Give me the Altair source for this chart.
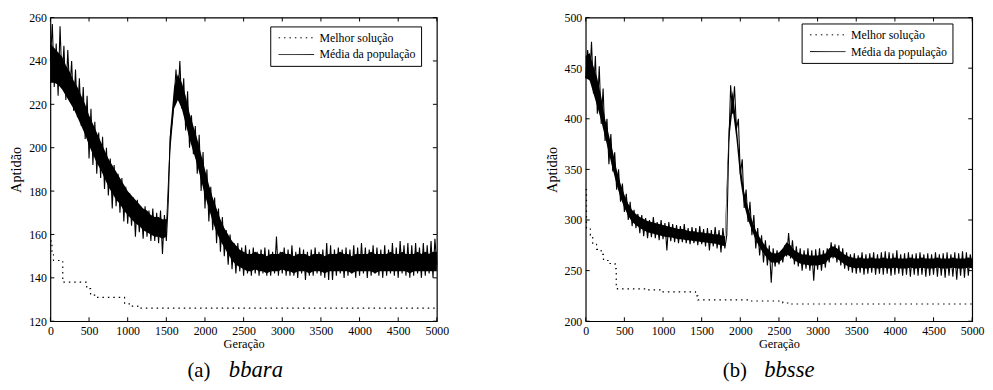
import altair as alt
import pandas as pd

# ---------------- data ----------------
# (a) bbara : population mean, sampled every 25 generations (upper/lower spikes of the noisy band)
mean_a = [240, 257, 228, 248, 224, 256, 230, 247, 222, 245, 226, 240, 217, 236, 214, 232, 210, 228, 204, 224,
          195, 218, 192, 212, 188, 207, 186, 205, 181, 200, 178, 195, 172, 192, 173, 188, 170, 186, 166, 182,
          165, 179, 164, 177, 159, 176, 161, 172, 158, 173, 159, 171, 157, 172, 157, 170, 156, 171, 151, 169,
          157, 175, 205, 212, 222, 236, 222, 240, 218, 232, 208, 226, 200, 215, 197, 210, 188, 206, 180, 198,
          172, 190, 166, 182, 162, 177, 156, 172, 152, 168, 150, 162, 146, 160, 144, 156, 142, 156, 143, 154,
          141, 155, 142, 153, 141, 154, 142, 152, 141, 153, 142, 154, 141, 153, 141, 152, 142, 159, 141, 152,
          142, 154, 141, 153, 141, 155, 141, 152, 140, 154, 142, 153, 139, 152, 141, 153, 141, 154, 142, 152,
          141, 153, 140, 156, 139, 155, 139, 153, 141, 154, 142, 153, 140, 154, 141, 153, 142, 155, 140, 154,
          141, 156, 142, 154, 140, 153, 141, 155, 142, 154, 141, 153, 140, 155, 141, 153, 142, 156, 141, 154,
          140, 157, 142, 155, 141, 156, 140, 155, 141, 156, 142, 154, 140, 156, 141, 155, 142, 157, 140, 158,
          146]
# dense core of the band, every 50 generations
band_a_low = [230, 230, 229, 227, 224, 221, 218, 214, 210, 206, 201, 197, 193, 190, 186, 182, 179, 176, 174, 171,
              169, 167, 165, 164, 162, 161, 160, 159, 159, 158, 159,
              198, 218, 222, 218, 211, 204, 198, 192, 185, 178, 172, 166, 161, 157, 154, 151, 148, 146, 145, 144,
              143, 143, 144, 143, 143, 142, 143, 143, 143, 144, 143, 143, 142, 143, 143, 143, 142, 143, 143, 143,
              142, 143, 143, 143, 143, 143, 143, 142, 143, 143, 143, 143, 143, 142, 143, 143, 143, 143, 143, 143,
              143, 143, 142, 143, 143, 143, 143, 143, 143, 143]
band_a_high = [248, 246, 244, 242, 238, 235, 231, 228, 224, 220, 215, 211, 207, 203, 199, 195, 192, 189, 186, 183,
               180, 178, 176, 174, 172, 171, 169, 168, 168, 167, 167,
               208, 228, 234, 230, 224, 216, 210, 204, 197, 190, 183, 177, 172, 167, 163, 160, 157, 155, 153, 152,
               151, 151, 152, 151, 151, 150, 151, 151, 151, 152, 151, 151, 150, 151, 151, 151, 150, 151, 151, 151,
               150, 151, 151, 151, 152, 151, 151, 150, 151, 151, 151, 151, 152, 151, 151, 151, 151, 152, 151, 151,
               152, 151, 151, 151, 152, 151, 152, 151, 152, 152]
best_a_gen = [0, 20, 40, 160, 470, 520, 600, 960, 1050, 1130, 5000]
best_a_val = [157, 152, 148, 138, 135, 132, 131, 128, 127, 126, 126]

# (b) bbsse
mean_b = [440, 468, 438, 476, 425, 462, 405, 452, 395, 430, 378, 400, 355, 385, 348, 367, 330, 350, 318, 336,
          308, 326, 300, 318, 294, 310, 292, 306, 287, 305, 284, 302, 282, 300, 283, 303, 282, 298, 280, 300,
          281, 297, 270, 298, 279, 296, 278, 295, 277, 294, 278, 296, 277, 292, 276, 293, 277, 292, 275, 294,
          276, 291, 274, 292, 270, 290, 274, 293, 272, 290, 268, 292, 272, 285, 370, 433, 405, 432, 390, 400,
          345, 360, 312, 330, 298, 318, 285, 305, 272, 292, 265, 285, 258, 280, 255, 275, 238, 272, 254, 270,
          256, 268, 258, 275, 264, 287, 262, 280, 256, 274, 254, 272, 250, 270, 252, 272, 250, 270, 240, 271,
          251, 272, 250, 270, 253, 272, 258, 278, 262, 276, 258, 275, 255, 272, 252, 268, 250, 266, 248, 267,
          247, 265, 248, 268, 246, 266, 247, 267, 248, 268, 246, 266, 247, 268, 246, 269, 247, 268, 245, 267,
          246, 270, 247, 266, 245, 267, 246, 268, 244, 266, 246, 267, 245, 268, 246, 266, 244, 267, 245, 266,
          246, 268, 244, 266, 245, 267, 243, 268, 245, 266, 244, 268, 241, 267, 245, 269, 243, 268, 245, 266,
          255]
band_b_low = [440, 438, 425, 412, 398, 382, 366, 350, 335, 322, 312, 304, 298, 295, 292, 290, 288, 287, 286, 285,
              284, 283, 283, 282, 281, 281, 280, 280, 279, 279, 278, 278, 277, 277, 276, 275, 274,
              375, 410, 380, 340, 315, 300, 290, 280, 273, 267, 262, 258, 258, 258, 262, 266, 264, 260, 258, 256,
              256, 255, 255, 255, 256, 257, 262, 264, 262, 259, 256, 254,
              253, 252, 253, 252, 252, 253, 252, 252, 253, 252, 252, 253, 252, 252, 252, 253, 252, 252, 253, 252,
              252, 252, 253, 252, 252, 252, 253, 252, 252, 252, 253, 252]
band_b_high = [462, 465, 452, 440, 422, 400, 384, 368, 350, 336, 325, 316, 310, 306, 303, 301, 299, 298, 297, 296,
               295, 294, 293, 292, 291, 291, 290, 289, 289, 288, 288, 287, 287, 286, 286, 285, 284,
               390, 428, 395, 355, 328, 312, 300, 290, 283, 277, 272, 268, 267, 268, 272, 278, 275, 270, 268, 266,
               266, 265, 265, 265, 266, 267, 272, 274, 272, 269, 266, 264,
               263, 262, 263, 262, 262, 263, 262, 262, 263, 262, 262, 263, 262, 262, 262, 263, 262, 262, 263, 262,
               262, 262, 263, 262, 262, 262, 263, 262, 262, 262, 263, 262]
best_b_gen = [0, 10, 60, 90, 140, 200, 230, 300, 380, 395, 410, 780, 1000, 1420, 1450, 2100, 2550, 2650, 5000]
best_b_val = [330, 292, 285, 276, 271, 266, 260, 257, 252, 236, 232, 231, 229, 225, 221, 220, 218, 217, 217]

x_ticks = [0, 500, 1000, 1500, 2000, 2500, 3000, 3500, 4000, 4500, 5000]
y_ticks_a = [120, 140, 160, 180, 200, 220, 240, 260]
y_ticks_b = [200, 250, 300, 350, 400, 450, 500]

SERIES = ["Melhor solução", "Média da população"]
STEP = 25
BAND_STEP = 50
W, H = 392, 308
FONT = "'Liberation Serif', 'Times New Roman', Times, 'DejaVu Serif', serif"


def panel(mean_vals, band_lo, band_hi, best_gen, best_val, y_dom, y_ticks, tag, name, lx, ly):
    df_mean = pd.DataFrame({"gen": [STEP * i for i in range(len(mean_vals))],
                            "val": mean_vals, "serie": SERIES[1]})
    df_band = pd.DataFrame({"gen": [BAND_STEP * i for i in range(len(band_lo))],
                            "lo": band_lo, "hi": band_hi})
    df_best = pd.DataFrame({"gen": best_gen, "val": best_val, "serie": SERIES[0]})

    xs = alt.Scale(domain=[0, 5000], nice=False, zero=False)
    ys = alt.Scale(domain=y_dom, nice=False, zero=False)
    xax = alt.Axis(values=x_ticks, ticks=False, domain=False, grid=False, labelFlush=False,
                   labelOverlap=False, labelPadding=4, titlePadding=2, title="Geração", format="d")
    yax = alt.Axis(values=y_ticks, ticks=False, domain=False, grid=False, labelFlush=False,
                   labelOverlap=False, labelPadding=4, titlePadding=5, title="Aptidão", format="d",
                   titleFontSize=14.5)
    X = lambda f: alt.X(f, scale=xs, axis=xax)
    Y = lambda f: alt.Y(f, scale=ys, axis=yax)

    dash = alt.StrokeDash(
        "serie:N",
        scale=alt.Scale(domain=SERIES, range=[[1.5, 4], [1, 0]]),
        legend=alt.Legend(title=None, orient="none", legendX=lx, legendY=ly,
                          symbolType="M-0.5,0H5.5", symbolSize=144, symbolStrokeColor="black",
                          symbolStrokeWidth=1, labelFont=FONT, labelFontSize=12, labelColor="black",
                          labelOffset=32, rowPadding=4, padding=5, strokeColor="black",
                          labelExpr="datum.label + '\u00a0\u00a0\u00a0\u00a0\u00a0\u00a0'",
                          fillColor="white", cornerRadius=0),
    )

    band = alt.Chart(df_band).mark_area(color="black", opacity=1).encode(
        x=X("gen:Q"), y=Y("lo:Q"), y2="hi:Q")
    mean_line = alt.Chart(df_mean).mark_line(color="black", strokeWidth=1.1).encode(
        x=X("gen:Q"), y=Y("val:Q"), strokeDash=dash)
    best_line = alt.Chart(df_best).mark_line(color="black", strokeWidth=1.2,
                                             interpolate="step-after").encode(
        x=X("gen:Q"), y=Y("val:Q"), strokeDash=dash)

    dfx = pd.DataFrame({"t": x_ticks})
    dfy = pd.DataFrame({"t": y_ticks})
    tk = dict(color="black", strokeWidth=1)
    xt_bot = alt.Chart(dfx).mark_rule(**tk).encode(x=X("t:Q"), y=alt.value(H), y2=alt.value(H - 4))
    xt_top = alt.Chart(dfx).mark_rule(**tk).encode(x=X("t:Q"), y=alt.value(0), y2=alt.value(4))
    yt_l = alt.Chart(dfy).mark_rule(**tk).encode(y=Y("t:Q"), x=alt.value(0), x2=alt.value(4))
    yt_r = alt.Chart(dfy).mark_rule(**tk).encode(y=Y("t:Q"), x=alt.value(W), x2=alt.value(W - 4))

    cap1 = alt.Chart(pd.DataFrame({"t": [tag]})).mark_text(
        font=FONT, fontSize=21, align="left", baseline="middle", color="black"
    ).encode(text="t:N", x=alt.value(139), y=alt.value(359))
    cap2 = alt.Chart(pd.DataFrame({"t": [name]})).mark_text(
        font=FONT, fontSize=23, fontStyle="italic", align="left", baseline="middle", color="black"
    ).encode(text="t:N", x=alt.value(181), y=alt.value(358))

    return alt.layer(band, mean_line, best_line, xt_bot, xt_top, yt_l, yt_r, cap1, cap2).properties(
        width=W, height=H)


pa = panel(mean_a, band_a_low, band_a_high, best_a_gen, best_a_val, [120, 260], y_ticks_a,
           "(a)", "bbara", 223, 9)
pb = panel(mean_b, band_b_low, band_b_high, best_b_gen, best_b_val, [200, 500], y_ticks_b,
           "(b)", "bbsse", 219, 6)

chart = alt.hconcat(pa, pb, spacing=95).resolve_scale(strokeDash="independent").properties(
    padding={"left": 0, "top": 0, "right": 0, "bottom": 0}
).configure_view(stroke="black", strokeWidth=1.2).configure_axis(
    labelFont=FONT, titleFont=FONT, labelFontSize=12, titleFontSize=12.5,
    labelColor="black", titleColor="black", titleFontWeight="normal"
)

chart.save("out.html", embed_options={"renderer": "svg", "actions": False})
